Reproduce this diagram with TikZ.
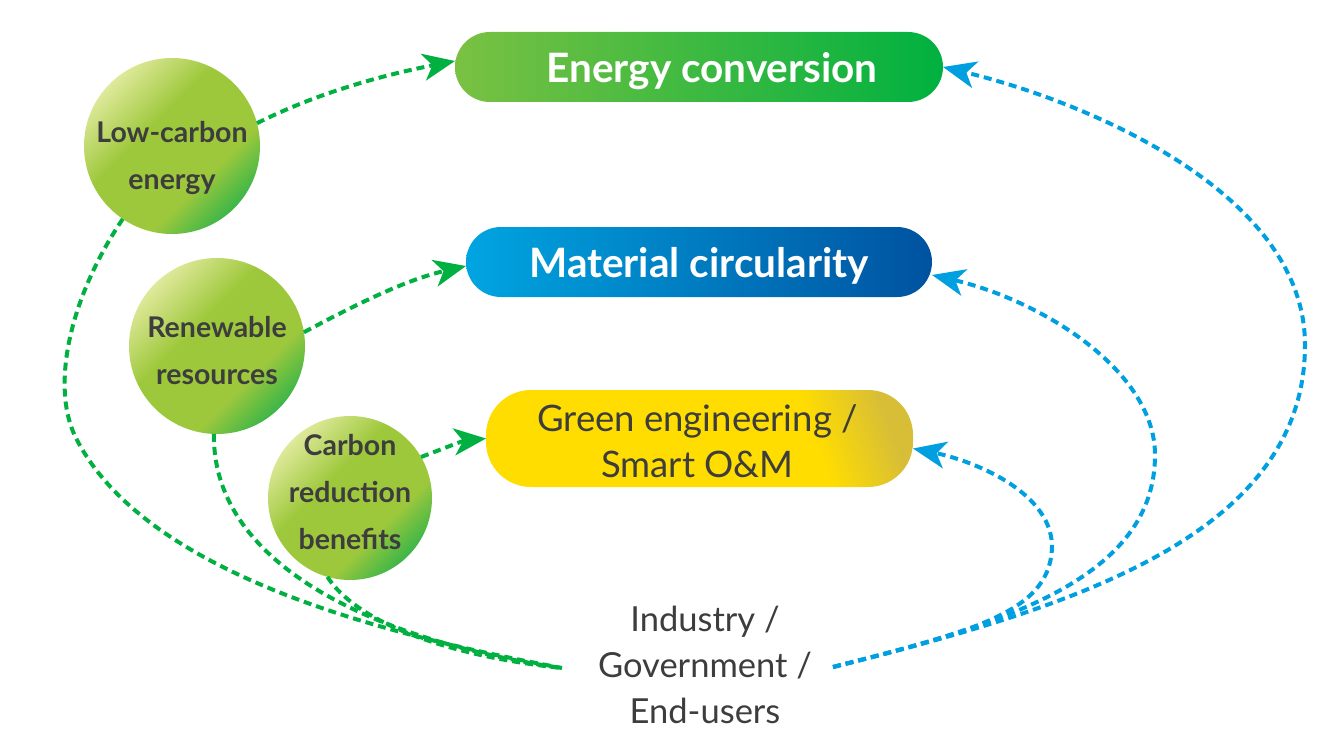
\documentclass[tikz,border=0pt]{standalone}
\usepackage{fontspec}
\setmainfont{Lato}
\usetikzlibrary{arrows.meta}
\definecolor{tgray}{RGB}{61,61,61}
\definecolor{cGreen}{RGB}{0,176,64}
\definecolor{cBlue}{RGB}{0,160,224}
\definecolor{ecL}{RGB}{122,193,66}
\definecolor{ecR}{RGB}{0,177,64}
\definecolor{mcL}{RGB}{0,165,225}
\definecolor{mcR}{RGB}{0,82,160}
\definecolor{cLight}{RGB}{226,235,160}
\definecolor{cMid}{RGB}{158,200,60}
\definecolor{cDark}{RGB}{60,182,72}
\definecolor{yA}{RGB}{255,221,0}
\definecolor{yB}{RGB}{216,190,55}
\pgfdeclarehorizontalshading{circsh}{100bp}{color(0bp)=(cLight); color(24bp)=(cLight); color(42bp)=(cMid); color(63bp)=(cMid); color(75bp)=(cDark); color(100bp)=(cDark)}
\pgfdeclarehorizontalshading{yelsh}{100bp}{color(0bp)=(yA); color(66bp)=(yA); color(77bp)=(yB); color(100bp)=(yB)}
\begin{document}
\begin{tikzpicture}[x=1pt,y=-1pt,
  box/.style={rectangle, rounded corners=35pt, minimum height=70pt, inner sep=0pt, outer sep=0pt},
  boxtext/.style={text=white, inner sep=0pt, font=\fontsize{40.5}{46}\selectfont\bfseries},
  circ/.style={circle, shade, shading=circsh, shading angle=-45, inner sep=0pt, outer sep=0pt},
  ctext/.style={text=tgray, align=center, inner sep=0pt, font=\fontsize{28.5}{47}\selectfont\bfseries},
  gline/.style={draw=cGreen, line width=4pt, dash pattern=on 8pt off 5pt},
  garrow/.style={gline, -{Stealth[length=32pt,width=27pt,inset=9pt]}},
  barrow/.style={draw=cBlue, line width=4pt, dash pattern=on 8pt off 5pt, -{Stealth[length=33pt,width=27pt,inset=9pt]}},
  users/.style={align=center, text=tgray, inner sep=0pt, font=\fontsize{34.5}{46}\selectfont}
]
\useasboundingbox (0,0) rectangle (1320,733);

% boxes
\node[box, minimum width=488pt, left color=ecL, right color=ecR] (ec) at (699,67) {};
\node[boxtext] (ect) at ([xshift=13pt,yshift=-4pt]ec.center) {Energy conversion};
\node[box, minimum width=466pt, left color=mcL, right color=mcR] (mc) at (699,262) {};
\node[boxtext] (mct) at ([yshift=-4pt]mc.center) {Material circularity};
\node[rectangle, rounded corners=45pt, minimum width=427pt, minimum height=97pt, inner sep=0pt, outer sep=0pt,
  shade, shading=yelsh, shading angle=20] (ge) at (699.5,438.5) {};
\node[users, font=\fontsize{36.5}{46}\selectfont] (get) at ([xshift=-2pt,yshift=-3pt]ge.center) {Green engineering /\\Smart O\&M};

% circles
\node[circ, minimum size=176pt] (lc) at (172,146) {};
\node[ctext] (lct) at ([yshift=-12pt]lc.center) {Low-carbon\\energy};
\node[circ, minimum size=176pt] (rr) at (217,346) {};
\node[ctext] (rrt) at ([yshift=-5pt]rr.center) {Renewable\\resources};
\node[circ, minimum size=164pt] (cr) at (350,498) {};
\node[ctext] (crt) at ([yshift=6pt]cr.center) {Carbon\\reduction\\benefits};

% stakeholders
\node[users] (users) at (705,665) {Industry /\\Government /\\End-users};
\coordinate (gL) at (562,668);
\coordinate (bR) at (833,667);

% green arrows
\draw[garrow] (lc.15) .. controls (317,93) and (383,75) .. ([yshift=6pt]ec.west);
\draw[garrow] (rr.9) .. controls (355,305) and (405,280) .. ([yshift=-4pt]mc.west);
\draw[garrow] (cr.30) .. controls (445,448) and (462,441) .. (ge.west);

% green lines to stakeholders
\draw[gline] (lc.236) .. controls (68,300) and (50,390) .. (77,440) .. controls (150,580) and (402,638) .. (gL);
\draw[gline] (rr.268) .. controls (212,575) and (400,645) .. (gL);
\draw[gline] (cr.254) .. controls (355,620) and (440,655) .. (gL);

% blue arrows
\draw[barrow] (bR) .. controls (1060,610) and (1305,540) .. (1305,345) .. controls (1305,190) and (1080,100) .. (ec.east);
\draw[barrow] (bR) .. controls (1000,625) and (1155,580) .. (1155,455) .. controls (1155,370) and (1040,300) .. ([yshift=-13pt]mc.east);
\draw[barrow] (bR) .. controls (980,630) and (1052,610) .. (1052,545) .. controls (1050,490) and (970,460) .. ([yshift=-10pt]ge.east);
\end{tikzpicture}
\end{document}
